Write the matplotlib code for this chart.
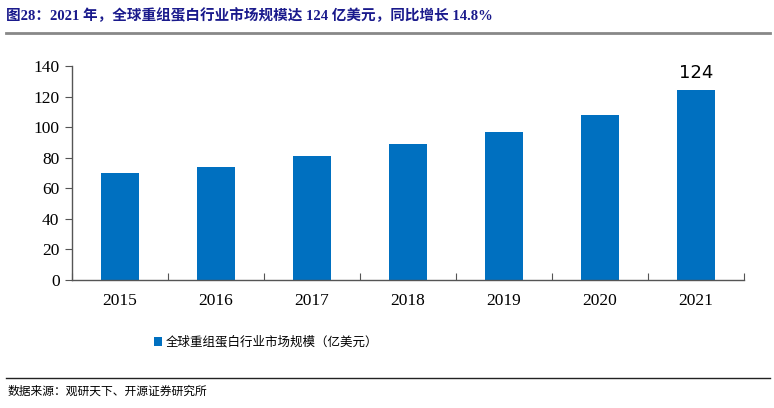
import numpy as np
import matplotlib
matplotlib.use('Agg')
import matplotlib.pyplot as plt
from matplotlib.lines import Line2D
from matplotlib.patches import Patch

# --- Donnees ---
annees = ['2015', '2016', '2017', '2018', '2019', '2020', '2021']
marche = [70, 74, 81, 89, 97, 108, 124]
serie = '全球重组蛋白行业市场规模（亿美元）'
titre = '图28：2021 年，全球重组蛋白行业市场规模达 124 亿美元，同比增长 14.8%'
source = '数据来源：观研天下、开源证券研究所'

bleu = '#0070C0'
serif_cjk = ['Liberation Serif', 'Noto Sans CJK SC']

W, H = 774, 408
fig = plt.figure(figsize=(W / 100, H / 100), dpi=100)

# axes : x 72->744 px, y 66->280 px
ax = fig.add_axes([72 / W, 1 - 280 / H, (744 - 72) / W, (280 - 66) / H])
x = np.arange(len(annees))
ax.bar(x, marche, width=0.40, color=bleu, zorder=2)
ax.set_xlim(-0.5, len(annees) - 0.5)
ax.set_ylim(0, 140)
ax.set_yticks(range(0, 141, 20))
ax.set_xticks(np.arange(-0.5, len(annees), 1.0))
ax.set_xticklabels([])
ax.tick_params(axis='x', direction='in', length=5, color='#555555')
ax.tick_params(axis='y', direction='out', length=5, color='#555555', pad=4)
for lab in ax.get_yticklabels():
    lab.set_fontfamily('Liberation Serif')
    lab.set_fontsize(12.5)
for s in ('top', 'right'):
    ax.spines[s].set_visible(False)
for s in ('left', 'bottom'):
    ax.spines[s].set_color('#555555')
    ax.spines[s].set_linewidth(1.0)

# libelles des annees, centres sur les barres
for xi, an in zip(x, annees):
    ax.text(xi, -8.5, an, ha='center', va='top', fontsize=12.5,
            family='Liberation Serif')

# valeur de la derniere barre
ax.text(x[-1], marche[-1] + 5.5, str(marche[-1]), ha='center', va='bottom',
        fontsize=13, family='DejaVu Sans')

# legende
handles = [Patch(facecolor=bleu, edgecolor='none')]
fig.legend(handles, [serie], loc='center', bbox_to_anchor=(266 / W, 1 - 342 / H),
           frameon=False, handlelength=0.7, handleheight=0.7, handletextpad=0.3,
           prop={'family': ['Noto Sans CJK SC'], 'size': 9})

# titre
fig.text(6 / W, 1 - 16 / H, titre, ha='left', va='center', fontsize=10.5,
         fontweight='bold', color='#1a1a8c', family=serif_cjk)
fig.add_artist(Line2D([6 / W, 770 / W], [1 - 33 / H, 1 - 33 / H],
                      color='#888888', lw=2))

# source
fig.add_artist(Line2D([6 / W, 770 / W], [1 - 378 / H, 1 - 378 / H],
                      color='#222222', lw=1))
fig.text(8 / W, 1 - 391 / H, source, ha='left', va='center', fontsize=8.5,
         family=['Noto Sans CJK SC'])

fig.savefig('out.png', dpi=100)
